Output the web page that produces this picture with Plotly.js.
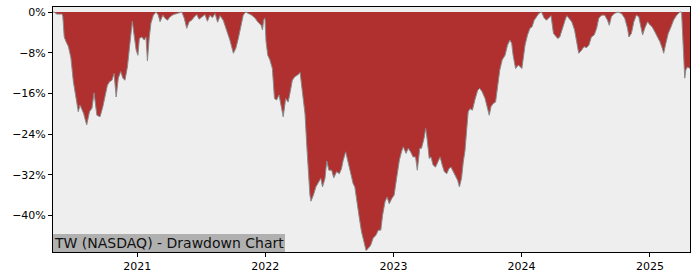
<!DOCTYPE html>
<html>
<head>
<meta charset="utf-8">
<script src="https://cdn.plot.ly/plotly-3.0.1.min.js"></script>
<style>
html,body{margin:0;padding:0;background:#fff;}
#chart{width:700px;height:280px;}
</style>
</head>
<body>
<div id="chart"></div>
<script>
var chartTitle = "TW (NASDAQ) - Drawdown Chart";

var dates = [
"2020-05-06","2020-05-09","2020-05-17","2020-06-01","2020-06-03","2020-06-07","2020-06-12","2020-06-19","2020-06-26",
"2020-07-03","2020-07-13","2020-07-17","2020-07-22","2020-08-01","2020-08-10","2020-08-18","2020-08-25","2020-08-31",
"2020-09-08","2020-09-17","2020-09-25","2020-10-02","2020-10-08","2020-10-14","2020-10-21","2020-10-27","2020-11-02",
"2020-11-08","2020-11-15","2020-11-21","2020-11-27","2020-12-04","2020-12-10","2020-12-15","2020-12-18","2020-12-23",
"2020-12-29","2021-01-03","2021-01-07","2021-01-14","2021-01-21","2021-01-26","2021-01-30","2021-02-04","2021-02-09",
"2021-02-16","2021-02-24","2021-03-02","2021-03-07","2021-03-15","2021-03-21","2021-03-28","2021-04-05","2021-04-14",
"2021-04-24","2021-05-03","2021-05-08","2021-05-15","2021-05-22","2021-05-29","2021-06-05","2021-06-13","2021-06-20",
"2021-06-26","2021-07-04","2021-07-13","2021-07-20","2021-07-27","2021-08-03","2021-08-11","2021-08-18","2021-08-25",
"2021-09-03","2021-09-13","2021-09-22","2021-10-02","2021-10-09","2021-10-16","2021-10-24","2021-10-30","2021-11-06",
"2021-11-14","2021-11-23","2021-12-03","2021-12-10","2021-12-20","2021-12-24","2021-12-27","2021-12-31",
"2022-01-03","2022-01-08","2022-01-14","2022-01-21","2022-01-27","2022-02-02","2022-02-09","2022-02-15","2022-02-21",
"2022-02-28","2022-03-07","2022-03-12","2022-03-19","2022-03-26","2022-04-03","2022-04-10","2022-04-16","2022-04-24",
"2022-04-29","2022-05-03","2022-05-08","2022-05-11","2022-05-18","2022-05-25","2022-06-01","2022-06-08","2022-06-13",
"2022-06-20","2022-06-25","2022-07-01","2022-07-09","2022-07-15","2022-07-23","2022-07-31","2022-08-06","2022-08-11",
"2022-08-18","2022-08-25","2022-09-01","2022-09-08","2022-09-13","2022-09-20","2022-09-26","2022-10-02","2022-10-09",
"2022-10-15","2022-10-21","2022-10-28","2022-11-04","2022-11-12","2022-11-19","2022-11-26","2022-12-01","2022-12-08",
"2022-12-14","2022-12-20","2022-12-27",
"2023-01-03","2023-01-10","2023-01-18","2023-01-24","2023-01-29","2023-02-06","2023-02-12","2023-02-19","2023-02-26",
"2023-03-05","2023-03-10","2023-03-17","2023-03-22","2023-03-29","2023-04-03","2023-04-07","2023-04-13","2023-04-18",
"2023-04-24","2023-05-01","2023-05-07","2023-05-14","2023-05-20","2023-05-26","2023-06-02","2023-06-08","2023-06-14",
"2023-06-20","2023-06-27","2023-07-03","2023-07-08","2023-07-14","2023-07-19","2023-07-24","2023-07-29","2023-08-02",
"2023-08-07","2023-08-14","2023-08-21","2023-08-29","2023-09-04","2023-09-11","2023-09-19","2023-09-26","2023-10-01",
"2023-10-06","2023-10-12","2023-10-19","2023-10-25","2023-10-31","2023-11-07","2023-11-15","2023-11-22","2023-11-29",
"2023-12-04","2023-12-08","2023-12-15","2023-12-23",
"2024-01-02","2024-01-06","2024-01-11","2024-01-18","2024-01-25","2024-01-31","2024-02-06","2024-02-13","2024-02-19",
"2024-02-27","2024-03-05","2024-03-12","2024-03-19","2024-03-25","2024-04-01","2024-04-05","2024-04-13","2024-04-19",
"2024-04-26","2024-05-04","2024-05-09","2024-05-15","2024-05-23","2024-05-31","2024-06-06","2024-06-12","2024-06-20",
"2024-06-27","2024-07-04","2024-07-11","2024-07-18","2024-07-26","2024-08-02","2024-08-08","2024-08-16","2024-08-25",
"2024-09-02","2024-09-07","2024-09-13","2024-09-21","2024-10-02","2024-10-12","2024-10-21","2024-10-29","2024-11-02",
"2024-11-09","2024-11-16","2024-11-23","2024-11-30","2024-12-06","2024-12-11","2024-12-17","2024-12-25",
"2025-01-02","2025-01-07","2025-01-15","2025-01-23","2025-01-29","2025-02-05","2025-02-09","2025-02-15","2025-02-22",
"2025-03-02","2025-03-09","2025-03-18","2025-03-27","2025-04-01","2025-04-06","2025-04-10","2025-04-13","2025-04-18",
"2025-04-25"
];

var drawdownPct = [
0,0,-0.4,-0.4,-0.9,-4.9,-5.8,-6.8,-9,
-13.7,-17.9,-19.6,-18.3,-19.9,-22.2,-19.6,-18.9,-15.9,
-20.3,-20.6,-18.6,-16,-14.4,-13.7,-13.4,-12.1,-16.7,
-13,-11.7,-13,-13.4,-10.8,-6.5,-3.2,-1.8,-4.5,
-7.5,-8.5,-5.2,-4.9,-5.5,-4.9,-9.6,-5.2,-2.2,
-0.6,0,-0.6,-1.9,-0.6,-1.2,-1.6,-0.9,-0.5,
-0.3,0,0,-1.2,-3.2,-1.9,-1.6,-0.9,-0.5,
-1.4,-0.9,-0.5,-1.8,-0.6,-1.1,-0.3,-2,-0.7,
-1.6,-3.5,-5.5,-8.1,-7.1,-5.2,-2.6,-0.6,0,
-0.3,-0.6,-1.2,-1.9,-2.6,-3.5,-1.6,-1.2,
-5.8,-8.5,-9.4,-11.1,-17,-17.3,-16.3,-18.3,-20.6,
-17,-17.7,-16,-13.4,-12.7,-12.4,-11.9,-15.5,-20,
-26.2,-31.4,-36,-37.2,-36,-34.4,-33.4,-32.7,-34.4,
-32.7,-29.3,-31.1,-31.1,-32.6,-31.4,-31.8,-30.8,-29.1,
-27.5,-29.5,-32.1,-33.7,-34.4,-37.3,-40.6,-43.2,-45.2,
-46.9,-46.5,-45.9,-44.5,-43.9,-42.9,-42.9,-40,-37.3,
-36.4,-37.7,-36.7,
-36,-32.7,-29.1,-27.5,-26.5,-27.8,-26.8,-27.5,-28.5,
-28.5,-31.1,-26.8,-26.8,-24.9,-22.9,-25,-28.8,-28.5,
-30.1,-30.5,-29.5,-28.5,-30.1,-31.4,-31.8,-30.8,-30.5,
-31.4,-32.1,-33.1,-34.4,-32.7,-29.5,-27.2,-22.9,-19.6,
-19,-19.3,-17.3,-15.4,-15,-15.7,-17,-19,-20.3,
-18.6,-18,-17.7,-15,-11.4,-9.4,-8.5,-6.5,-5.5,
-6.2,-8.5,-11.1,-10.4,
-11.1,-8.5,-6.5,-4.5,-3.2,-2.9,-1.6,-0.9,-0.3,
0,-1.1,-1.6,-1.2,-0.7,-4.2,-4.5,-5.2,-4.9,
-3.2,-1.6,-0.7,-1.2,-1.9,-3.5,-5.8,-8.1,-7.5,
-6.8,-7,-6.5,-4.9,-4.5,-3.2,-1.2,-0.6,-0.6,
-1.6,-2.6,-0.9,-0.3,0,-0.3,-1.2,-3.2,-4.9,
-4.2,-1.9,-0.6,-0.9,-2.9,-4.5,-3.2,-1.9,
-2.6,-2.9,-3.9,-4.9,-5.8,-7.1,-8.1,-6.2,-4.2,
-2.9,-1.6,-0.6,0,0,-7.8,-13,-11.4,-10.8,
-11.1
];

var yTickVals = [-40, -32, -24, -16, -8, 0];
var yTickText = ["\u221240%", "\u221232%", "\u221224%", "\u221216%", "\u22128%", "0%"];
var xTickVals = ["2021-01-01", "2022-01-01", "2023-01-01", "2024-01-01", "2025-01-01"];
var xTickText = ["2021", "2022", "2023", "2024", "2025"];

var trace = {
  x: dates,
  y: drawdownPct,
  type: "scatter",
  mode: "lines",
  fill: "tozeroy",
  fillcolor: "#b03030",
  line: {color: "#8a8a8a", width: 1},
  hoverinfo: "skip"
};

var layout = {
  width: 700,
  height: 280,
  margin: {l: 53, r: 10, t: 7, b: 28, pad: 0},
  paper_bgcolor: "#ffffff",
  plot_bgcolor: "#eeeeee",
  showlegend: false,
  font: {family: "DejaVu Sans, sans-serif", size: 11, color: "#000"},
  xaxis: {
    type: "date",
    range: ["2020-05-06", "2025-04-25"],
    tickmode: "array",
    tickvals: xTickVals,
    ticktext: xTickText,
    ticks: "outside",
    ticklen: 4,
    tickwidth: 1,
    tickcolor: "#000",
    showgrid: false,
    zeroline: false,
    showline: true,
    linecolor: "#000",
    linewidth: 1,
    mirror: true,
    tickfont: {family: "DejaVu Sans", size: 11, color: "#000"}
  },
  yaxis: {
    range: [-47.2, 1.0],
    tickmode: "array",
    tickvals: yTickVals,
    ticktext: yTickText,
    ticks: "outside",
    ticklen: 4,
    tickwidth: 1,
    tickcolor: "#000",
    showgrid: false,
    zeroline: false,
    showline: true,
    linecolor: "#000",
    linewidth: 1,
    mirror: true,
    tickfont: {family: "DejaVu Sans", size: 11, color: "#000"}
  },
  annotations: [{
    text: chartTitle,
    xref: "paper", yref: "paper",
    x: 0, y: 0,
    xanchor: "left", yanchor: "bottom",
    showarrow: false,
    bgcolor: "#b0b0b0",
    borderpad: 1,
    borderwidth: 0,
    font: {family: "DejaVu Sans", size: 14, color: "#111"}
  }]
};

Plotly.newPlot("chart", [trace], layout, {staticPlot: true, displayModeBar: false});
</script>
</body>
</html>
